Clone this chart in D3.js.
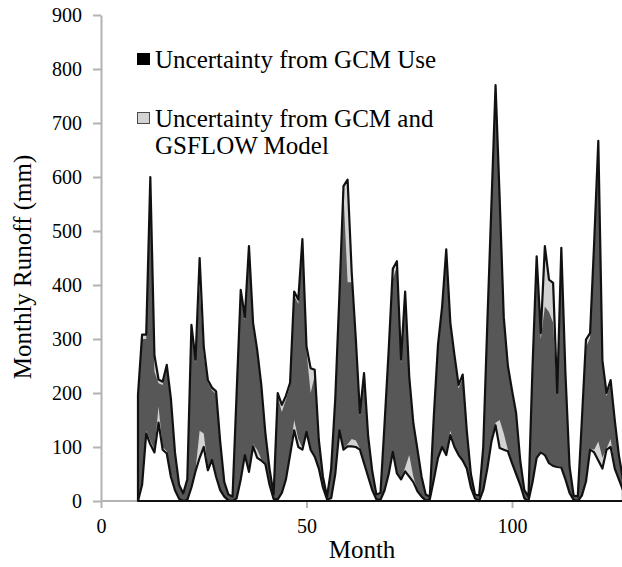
<!DOCTYPE html>
<html>
<head>
<meta charset="utf-8">
<script src="https://cdn.jsdelivr.net/npm/d3@7"></script>
<style>
  html, body { margin: 0; padding: 0; background: #fff; }
  svg { display: block; }
  text { font-family: "Liberation Serif", "Times New Roman", serif; fill: #000; }
</style>
</head>
<body>
<svg id="chart" width="622" height="567"></svg>
<script>
// Simulated monthly runoff envelopes (mm)
const months = [
  9, 10, 11, 12, 13, 14, 15, 16, 17, 18, 19, 20, 21, 22, 23, 24, 25, 26, 27, 28,
  29, 30, 31, 32, 33, 34, 35, 36, 37, 38, 39, 40, 41, 42, 43, 44, 45, 46, 47, 48,
  49, 50, 51, 52, 53, 54, 55, 56, 57, 58, 59, 60, 61, 62, 63, 64, 65, 66, 67, 68,
  69, 70, 71, 72, 73, 74, 75, 76, 77, 78, 79, 80, 81, 82, 83, 84, 85, 86, 87, 88,
  89, 90, 91, 92, 93, 94, 95, 96, 97, 98, 99, 100, 101, 102, 103, 104, 105, 106, 107, 108,
  109, 110, 111, 112, 113, 114, 115, 116, 117, 118, 119, 120, 121, 122, 123, 124, 125, 126, 127
];

// Upper bound, GCM + GSFLOW model uncertainty
const upperTotal = [
  197, 308, 308, 600, 270, 225, 221, 252, 190, 90, 30, 14, 40, 326, 262, 450, 286, 224, 210, 203,
  110, 35, 12, 8, 200, 391, 341, 472, 330, 280, 215, 125, 60, 12, 200, 178, 195, 219, 388, 373,
  485, 286, 246, 243, 113, 45, 8, 60, 190, 380, 583, 595, 423, 300, 163, 237, 120, 55, 12, 15,
  144, 280, 430, 444, 262, 388, 230, 144, 95, 45, 12, 8, 160, 290, 360, 466, 330, 270, 215, 234,
  130, 50, 12, 10, 100, 330, 550, 770, 560, 340, 250, 205, 163, 75, 20, 8, 250, 453, 311, 472,
  410, 404, 200, 469, 237, 64, 10, 8, 150, 299, 311, 480, 667, 260, 200, 224, 150, 85, 40
];

// Upper bound, GCM uncertainty only
const upperGCM = [
  190, 300, 300, 585, 240, 218, 215, 247, 185, 86, 28, 12, 36, 318, 255, 400, 270, 220, 205, 198,
  105, 32, 10, 6, 192, 380, 335, 462, 322, 272, 208, 120, 56, 10, 192, 165, 188, 212, 380, 365,
  475, 278, 200, 232, 108, 42, 7, 55, 183, 372, 570, 405, 405, 292, 158, 230, 115, 52, 10, 13,
  138, 272, 410, 435, 255, 380, 225, 140, 90, 42, 10, 7, 153, 282, 352, 456, 322, 262, 208, 228,
  125, 47, 10, 8, 95, 320, 538, 758, 548, 332, 243, 198, 158, 72, 18, 6, 240, 440, 300, 360,
  350, 330, 195, 455, 230, 60, 8, 6, 142, 285, 302, 465, 640, 252, 194, 218, 145, 82, 38
];

// Lower bound, GCM uncertainty only
const lowerGCM = [
  4, 35, 130, 112, 95, 175, 100, 92, 50, 22, 6, 1, 4, 28, 58, 130, 125, 60, 78, 48,
  22, 9, 2, 0, 6, 42, 88, 60, 105, 95, 78, 70, 32, 5, 4, 17, 42, 88, 150, 115,
  98, 130, 97, 84, 62, 27, 4, 6, 52, 133, 97, 105, 115, 112, 97, 72, 47, 21, 4, 2,
  21, 52, 93, 53, 42, 62, 85, 45, 20, 9, 2, 4, 42, 82, 102, 88, 130, 102, 87, 77,
  62, 26, 6, 1, 21, 62, 112, 145, 150, 125, 95, 72, 52, 32, 6, 0, 37, 82, 92, 87,
  72, 67, 65, 64, 42, 17, 3, 0, 12, 38, 97, 95, 110, 80, 97, 115, 62, 42, 21
];

// Lower bound, GCM + GSFLOW model uncertainty
const lowerTotal = [
  0, 30, 125, 105, 90, 145, 95, 88, 45, 20, 4, 0, 2, 25, 55, 80, 100, 57, 76, 45,
  20, 8, 1, 0, 5, 40, 85, 54, 101, 80, 75, 68, 30, 4, 3, 15, 40, 85, 131, 100,
  95, 128, 95, 82, 60, 25, 3, 5, 50, 131, 95, 101, 101, 100, 95, 70, 45, 20, 3, 2,
  20, 50, 91, 51, 40, 55, 45, 35, 18, 8, 1, 3, 40, 80, 100, 85, 122, 100, 85, 75,
  60, 25, 5, 0, 20, 60, 110, 140, 98, 95, 92, 70, 50, 30, 5, 0, 35, 80, 90, 85,
  70, 65, 63, 62, 40, 15, 2, 0, 10, 36, 95, 90, 75, 60, 95, 100, 60, 40, 20
];

const xTicks = [0, 50, 100];
const yTicks = [0, 100, 200, 300, 400, 500, 600, 700, 800, 900];
const legendItems = [
  { lines: ["Uncertainty from GCM Use"], fill: "#000000", stroke: "#000000" },
  { lines: ["Uncertainty from GCM and", "GSFLOW Model"], fill: "#d3d3d3", stroke: "#4a4a4a" }
];

const colDark = "#575757";
const colLight = "#d3d3d3";
const axisGrey = "#b3b3b3";

const svg = d3.select("#chart");
const W = 622;

const x = d3.scaleLinear().domain([0, 100]).range([101, 512]);
const y = d3.scaleLinear().domain([0, 900]).range([501, 15]);

const rows = months.map((m, i) => ({
  m, ut: upperTotal[i], ug: upperGCM[i], lg: lowerGCM[i], lt: lowerTotal[i]
}));

svg.append("defs").append("clipPath").attr("id", "plotClip")
  .append("rect").attr("x", 101).attr("y", 0).attr("width", W - 101).attr("height", 510);

// Axes
const yAxis = d3.axisLeft(y).tickValues(yTicks).tickSize(8).tickSizeOuter(0).tickPadding(11);
const gy = svg.append("g").attr("transform", `translate(${x(0)},0)`).call(yAxis);
gy.selectAll(".tick text").style("font-size", "20px").attr("font-family", null);
gy.selectAll("line, path").attr("stroke", axisGrey).attr("stroke-width", 2);

const xAxis = d3.axisBottom(x).tickValues(xTicks).tickSize(7).tickSizeOuter(0).tickPadding(11);
const gx = svg.append("g").attr("transform", `translate(0,${y(0)})`).call(xAxis);
gx.select(".domain").attr("d", `M${x(0)},0H${W}`);
gx.selectAll(".tick text").style("font-size", "20px").attr("font-family", null);
gx.selectAll("line, path").attr("stroke", axisGrey).attr("stroke-width", 2);

// Uncertainty bands
const plot = svg.append("g").attr("clip-path", "url(#plotClip)");

const bandTotal = d3.area().x(d => x(d.m)).y0(d => y(d.lt)).y1(d => y(d.ut));
const bandGCM = d3.area().x(d => x(d.m)).y0(d => y(d.lg)).y1(d => y(d.ug));

plot.append("path").datum(rows).attr("d", bandTotal).attr("fill", colLight);
plot.append("path").datum(rows).attr("d", bandGCM).attr("fill", colDark);

// Outline of the envelope: baseline, left edge and upper bound
const outline = d3.area().x(d => x(d.m)).y0(y(0)).y1(d => y(d.ut));
plot.append("path").datum(rows).attr("d", outline)
  .attr("fill", "none").attr("stroke", "#111").attr("stroke-width", 2.2).attr("stroke-linejoin", "round");

const lowerLine = d3.line().x(d => x(d.m)).y(d => y(d.lt));
plot.append("path").datum(rows).attr("d", lowerLine)
  .attr("fill", "none").attr("stroke", "#111").attr("stroke-width", 2.2).attr("stroke-linejoin", "round");

// Axis titles
svg.append("text").attr("x", 362).attr("y", 558).attr("text-anchor", "middle")
  .style("font-size", "25px").text("Month");
svg.append("text").attr("transform", "translate(31,267) rotate(-90)").attr("text-anchor", "middle")
  .style("font-size", "25px").text("Monthly Runoff (mm)");

// Legend
const legendTop = [53, 112];
legendItems.forEach((item, i) => {
  const g = svg.append("g");
  g.append("rect").attr("x", 137.5).attr("y", legendTop[i] + 0.5).attr("width", 12).attr("height", 11)
    .attr("fill", item.fill).attr("stroke", item.stroke).attr("stroke-width", 1);
  item.lines.forEach((t, j) => {
    g.append("text").attr("x", 155).attr("y", legendTop[i] + 15 + j * 27)
      .style("font-size", "25px").text(t);
  });
});
</script>
</body>
</html>
